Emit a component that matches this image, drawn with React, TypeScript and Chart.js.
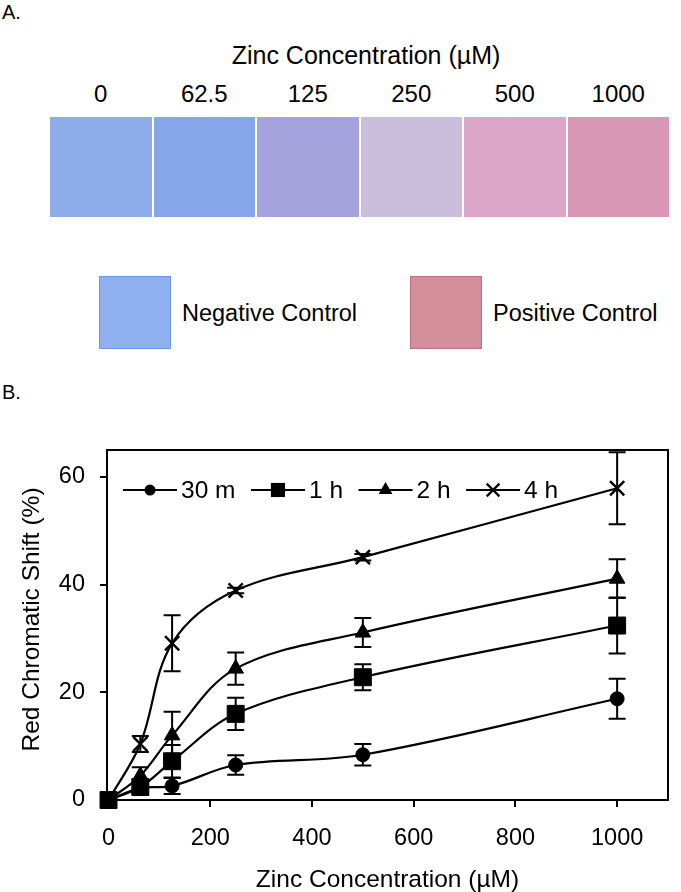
import React, { useEffect, useRef } from 'react';
import { Chart, registerables } from 'chart.js';

Chart.register(...registerables);

// ---- Panel A data ----
const CONC_LABELS = ['0', '62.5', '125', '250', '500', '1000'];
const SWATCH_COLORS = ['#8eace9', '#85a6e8', '#a4a3de', '#cbbedc', '#dca6c8', '#d897b4'];
const CONTROL_LABELS = ['Negative Control', 'Positive Control'];
const CONTROL_COLORS = ['#8fb0ef', '#d28e9a'];
const CONTROL_BORDERS = ['#6f95e6', '#bf6f7e'];

// ---- Panel B data ----
const CONCENTRATIONS = [0, 62.5, 125, 250, 500, 1000];
const SERIES_NAMES = ['30 m', '1 h', '2 h', '4 h'];
const VALUES_30M = [0, 2.2, 2.6, 6.5, 8.4, 18.8];
const ERR_30M = [0, 1.0, 1.5, 1.8, 2.0, 3.7];
const VALUES_1H = [0, 2.4, 7.2, 16.0, 22.8, 32.4];
const ERR_1H = [0, 1.2, 3.0, 3.0, 2.4, 5.2];
const VALUES_2H = [0, 4.5, 12.0, 24.4, 31.1, 41.1];
const ERR_2H = [0, 1.6, 4.4, 3.0, 2.7, 3.6];
const VALUES_4H = [0, 10.4, 29.1, 38.9, 45.1, 57.9];
const ERR_4H = [0, 1.5, 5.2, 0.5, 0.6, 6.7];
const X_TICKS = [0, 200, 400, 600, 800, 1000];
const Y_TICKS = [0, 20, 40, 60];
const X_TITLE = 'Zinc Concentration (µM)';
const Y_TITLE = 'Red Chromatic Shift (%)';

const SERIES_VALUES = [VALUES_30M, VALUES_1H, VALUES_2H, VALUES_4H];
const SERIES_ERRORS = [ERR_30M, ERR_1H, ERR_2H, ERR_4H];
const POINT_STYLES = ['circle', 'rect', 'triangle', 'crossRot'];
const POINT_RADII = [7, 12, 9, 10];
const LEGEND_RADII = [5.5, 10, 8, 9];

const FONT = '"Liberation Sans", Arial, Helvetica, sans-serif';

function drawMarker(ctx: CanvasRenderingContext2D, style: string, x: number, y: number, r: number) {
  ctx.save();
  ctx.fillStyle = '#000';
  ctx.strokeStyle = '#000';
  ctx.beginPath();
  if (style === 'circle') {
    ctx.arc(x, y, r, 0, Math.PI * 2);
    ctx.fill();
  } else if (style === 'rect') {
    const s = r * Math.SQRT1_2;
    ctx.rect(x - s, y - s, 2 * s, 2 * s);
    ctx.fill();
  } else if (style === 'triangle') {
    ctx.moveTo(x, y - r);
    ctx.lineTo(x + r * Math.sin((2 * Math.PI) / 3), y - r * Math.cos((2 * Math.PI) / 3));
    ctx.lineTo(x + r * Math.sin((4 * Math.PI) / 3), y - r * Math.cos((4 * Math.PI) / 3));
    ctx.closePath();
    ctx.fill();
  } else {
    const o = r * Math.SQRT1_2;
    ctx.lineWidth = 2.2;
    ctx.moveTo(x - o, y - o);
    ctx.lineTo(x + o, y + o);
    ctx.moveTo(x + o, y - o);
    ctx.lineTo(x - o, y + o);
    ctx.stroke();
  }
  ctx.restore();
}

const framePlugin = {
  id: 'frame',
  beforeDatasetsDraw(chart: any) {
    const { ctx, chartArea } = chart;
    ctx.save();
    ctx.strokeStyle = '#000';
    ctx.lineWidth = 2;
    ctx.strokeRect(chartArea.left, chartArea.top, chartArea.right - chartArea.left, chartArea.bottom - chartArea.top);
    ctx.restore();
  },
};

const errorBarPlugin = {
  id: 'errorBars',
  beforeDatasetsDraw(chart: any) {
    const { ctx } = chart;
    const yScale = chart.scales.y;
    ctx.save();
    ctx.strokeStyle = '#000';
    ctx.lineWidth = 2;
    chart.data.datasets.forEach((_ds: any, i: number) => {
      const meta = chart.getDatasetMeta(i);
      const errs = SERIES_ERRORS[i];
      meta.data.forEach((pt: any, j: number) => {
        const e = errs[j];
        if (!e) return;
        const v = SERIES_VALUES[i][j];
        const yt = yScale.getPixelForValue(v + e);
        const yb = yScale.getPixelForValue(v - e);
        const x = pt.x;
        const cap = 8.5;
        ctx.beginPath();
        ctx.moveTo(x, yt);
        ctx.lineTo(x, yb);
        ctx.moveTo(x - cap, yt);
        ctx.lineTo(x + cap, yt);
        ctx.moveTo(x - cap, yb);
        ctx.lineTo(x + cap, yb);
        ctx.stroke();
      });
    });
    ctx.restore();
  },
};

const legendPlugin = {
  id: 'insideLegend',
  afterDatasetsDraw(chart: any) {
    const { ctx, chartArea } = chart;
    ctx.save();
    ctx.font = `24.5px ${FONT}`;
    ctx.textBaseline = 'middle';
    let x = chartArea.left + 16;
    const y = chartArea.top + 40;
    SERIES_NAMES.forEach((name, i) => {
      ctx.strokeStyle = '#000';
      ctx.lineWidth = 2.2;
      ctx.beginPath();
      ctx.moveTo(x, y);
      ctx.lineTo(x + 54, y);
      ctx.stroke();
      drawMarker(ctx, POINT_STYLES[i], x + 27, y, LEGEND_RADII[i]);
      ctx.fillStyle = '#000';
      ctx.fillText(name, x + 58, y + 1);
      x += 58 + ctx.measureText(name).width + 15.5;
    });
    ctx.restore();
  },
};

const yTitlePlugin = {
  id: 'yTitle',
  afterDraw(chart: any) {
    const { ctx, chartArea } = chart;
    ctx.save();
    ctx.font = `24.5px ${FONT}`;
    ctx.fillStyle = '#000';
    ctx.textAlign = 'center';
    ctx.textBaseline = 'middle';
    ctx.translate(32, (chartArea.top + chartArea.bottom) / 2 - 5.5);
    ctx.rotate(-Math.PI / 2);
    ctx.fillText(Y_TITLE, 0, 0);
    ctx.restore();
  },
};

function ChartPanel() {
  const ref = useRef<HTMLCanvasElement | null>(null);
  useEffect(() => {
    if (!ref.current) return;
    Chart.defaults.font.family = FONT;
    const datasets = SERIES_NAMES.map((name, i) => ({
      label: name,
      data: CONCENTRATIONS.map((c, j) => ({ x: c, y: SERIES_VALUES[i][j] })),
      borderColor: '#000',
      backgroundColor: '#000',
      borderWidth: 2.2,
      tension: 0.35,
      fill: false,
      clip: false,
      pointStyle: POINT_STYLES[i],
      pointRadius: POINT_RADII[i],
      pointBackgroundColor: '#000',
      pointBorderColor: '#000',
      pointBorderWidth: POINT_STYLES[i] === 'crossRot' ? 2.5 : 1,
    }));
    const chart = new Chart(ref.current, {
      type: 'line',
      data: { datasets },
      plugins: [framePlugin, errorBarPlugin, legendPlugin, yTitlePlugin],
      options: {
        responsive: false,
        animation: false,
        layout: { padding: { top: 70, right: 3, left: 0, bottom: 0 } },
        plugins: { legend: { display: false }, tooltip: { enabled: false } },
        scales: {
          x: {
            type: 'linear',
            min: -3,
            max: 1100,
            afterBuildTicks: (s: any) => {
              s.ticks = X_TICKS.map((v) => ({ value: v }));
            },
            afterFit: (s: any) => {
              s.height = 92;
            },
            grid: { drawOnChartArea: false, drawTicks: true, tickLength: 7, color: '#000', lineWidth: 2 },
            border: { display: true, color: '#000', width: 2 },
            ticks: {
              color: '#000',
              font: { size: 23.5 },
              padding: 17,
              maxRotation: 0,
              autoSkip: false,
              callback: (v: any) => String(v),
            },
            title: {
              display: true,
              text: X_TITLE,
              color: '#000',
              font: { size: 24.5, lineHeight: 1 },
              padding: { top: 0, bottom: 0 },
            },
          },
          y: {
            type: 'linear',
            min: 0,
            max: 65,
            afterBuildTicks: (s: any) => {
              s.ticks = Y_TICKS.map((v) => ({ value: v }));
            },
            afterFit: (s: any) => {
              s.width = 107;
            },
            grid: { drawOnChartArea: false, drawTicks: true, tickLength: 7, color: '#000', lineWidth: 2 },
            border: { display: true, color: '#000', width: 2 },
            ticks: { color: '#000', font: { size: 23.5 }, padding: 15, callback: (v: any) => String(v) },
            title: { display: false },
          },
        },
      } as any,
    });
    return () => chart.destroy();
  }, []);
  return (
    <canvas
      ref={ref}
      width={681}
      height={512}
      style={{ position: 'absolute', left: 0, top: 380, width: 681, height: 512 }}
    />
  );
}

const textStyle = (size: number): React.CSSProperties => ({
  position: 'absolute',
  fontFamily: FONT,
  fontSize: size,
  lineHeight: `${size}px`,
  color: '#000',
  whiteSpace: 'nowrap',
});

export default function App() {
  const swLeft = 50;
  const swW = 101.5;
  const swGap = 2;
  return (
    <div style={{ position: 'absolute', left: 0, top: 0, width: 681, height: 892, background: '#fff', overflow: 'hidden' }}>
      <div style={{ ...textStyle(20), left: 2, top: 2 }}>A.</div>
      <div style={{ ...textStyle(25), left: 366, top: 43, transform: 'translateX(-50%)' }}>{X_TITLE}</div>
      {CONC_LABELS.map((lab, i) => (
        <div
          key={lab}
          style={{ ...textStyle(24), left: swLeft + i * (swW + swGap) + swW / 2, top: 81.5, transform: 'translateX(-50%)' }}
        >
          {lab}
        </div>
      ))}
      {SWATCH_COLORS.map((c, i) => (
        <div
          key={c}
          style={{
            position: 'absolute',
            left: swLeft + i * (swW + swGap),
            top: 117,
            width: swW,
            height: 100,
            background: c,
          }}
        />
      ))}
      {CONTROL_COLORS.map((c, i) => (
        <div
          key={c}
          style={{
            position: 'absolute',
            left: i === 0 ? 99 : 410,
            top: 276,
            width: 70,
            height: 71,
            background: c,
            border: `1px solid ${CONTROL_BORDERS[i]}`,
          }}
        />
      ))}
      {CONTROL_LABELS.map((lab, i) => (
        <div key={lab} style={{ ...textStyle(23.5), left: i === 0 ? 182 : 493, top: 302 }}>
          {lab}
        </div>
      ))}
      <div style={{ ...textStyle(20), left: 2, top: 382 }}>B.</div>
      <ChartPanel />
    </div>
  );
}
